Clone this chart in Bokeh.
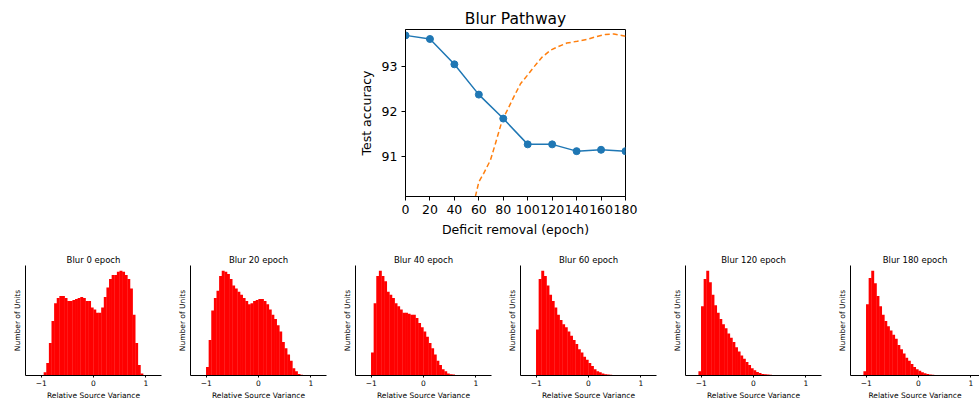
from bokeh.plotting import figure
from bokeh.layouts import column, row
from bokeh.models import Spacer, FixedTicker
from bokeh.embed import file_html
from bokeh.resources import INLINE

FONT = "DejaVu Sans"

# ---- top chart data ----
epochs = [0, 20, 40, 60, 80, 100, 120, 140, 160, 180]
blur_acc = [93.68, 93.60, 93.04, 92.37, 91.84, 91.27, 91.27, 91.12, 91.15, 91.12]

curve_epoch = [55, 57.3, 60, 64, 69.5, 73.6, 79.1, 83.2, 88.6, 94.1, 99.5, 105, 111.8,
               118.6, 124, 132, 140.5, 148.6, 155.5, 163.6, 170.5, 180]
curve_acc = [89.95, 90.13, 90.44, 90.63, 90.92, 91.29, 91.80, 92.02, 92.32, 92.61, 92.79,
             92.98, 93.20, 93.35, 93.42, 93.51, 93.55, 93.59, 93.65, 93.70, 93.71, 93.66]

y_ticks = [91, 92, 93]

# ---- histogram data (relative counts, bin left edges, width 0.05) ----
bin_left = [-1.10, -1.05, -1.00, -0.95, -0.90, -0.85, -0.80, -0.75, -0.70, -0.65,
            -0.60, -0.55, -0.50, -0.45, -0.40, -0.35, -0.30, -0.25, -0.20, -0.15,
            -0.10, -0.05, 0.00, 0.05, 0.10, 0.15, 0.20, 0.25, 0.30, 0.35,
            0.40, 0.45, 0.50, 0.55, 0.60, 0.65, 0.70, 0.75, 0.80, 0.85,
            0.90, 0.95]
bin_width = 0.05

hist_titles = ["Blur 0 epoch", "Blur 20 epoch", "Blur 40 epoch",
               "Blur 60 epoch", "Blur 120 epoch", "Blur 180 epoch"]

counts_0 = [0, 0, 0.005, 0.03, 0.12, 0.31, 0.52, 0.69, 0.74, 0.76,
            0.76, 0.74, 0.71, 0.71, 0.72, 0.73, 0.74, 0.75, 0.74, 0.71,
            0.71, 0.65, 0.63, 0.60, 0.60, 0.65, 0.75, 0.84, 0.92, 0.96,
            0.96, 0.99, 1.00, 0.99, 0.96, 0.92, 0.83, 0.58, 0.31, 0.10,
            0.02, 0.005]
counts_20 = [0, 0, 0.08, 0.34, 0.62, 0.74, 0.81, 0.95, 1.00, 0.99,
             0.97, 0.92, 0.86, 0.83, 0.80, 0.77, 0.74, 0.71, 0.68, 0.69,
             0.71, 0.72, 0.73, 0.73, 0.71, 0.68, 0.63, 0.58, 0.54, 0.48,
             0.42, 0.32, 0.26, 0.20, 0.14, 0.07, 0.04, 0.015, 0.006, 0.003,
             0.002, 0.002]
counts_40 = [0, 0, 0.22, 0.69, 0.95, 1.00, 0.95, 0.90, 0.80, 0.77,
             0.74, 0.69, 0.66, 0.63, 0.60, 0.60, 0.59, 0.58, 0.58, 0.55,
             0.50, 0.46, 0.42, 0.37, 0.31, 0.26, 0.20, 0.14, 0.10, 0.06,
             0.04, 0.02, 0.012, 0.01, 0.005, 0.003, 0.002, 0.002, 0, 0,
             0, 0]
counts_60 = [0, 0, 0.44, 0.92, 1.00, 0.95, 0.86, 0.77, 0.71, 0.65,
             0.58, 0.53, 0.49, 0.46, 0.42, 0.38, 0.34, 0.30, 0.25, 0.22,
             0.18, 0.15, 0.12, 0.09, 0.06, 0.04, 0.03, 0.02, 0.012, 0.01,
             0.006, 0.003, 0.002, 0.002, 0, 0, 0, 0, 0, 0,
             0, 0]
counts_120 = [0, 0.04, 0.66, 0.92, 1.00, 0.89, 0.77, 0.67, 0.60, 0.54,
              0.49, 0.45, 0.40, 0.36, 0.32, 0.27, 0.23, 0.19, 0.16, 0.13,
              0.10, 0.07, 0.05, 0.034, 0.025, 0.015, 0.012, 0.009, 0.006, 0.003,
              0.002, 0, 0, 0, 0, 0, 0, 0, 0, 0,
              0, 0]
counts_180 = [0, 0.04, 0.68, 0.93, 1.00, 0.88, 0.76, 0.66, 0.58, 0.52,
              0.47, 0.43, 0.39, 0.35, 0.29, 0.25, 0.21, 0.17, 0.14, 0.11,
              0.08, 0.06, 0.045, 0.032, 0.022, 0.014, 0.01, 0.008, 0.005, 0.003,
              0.002, 0, 0, 0, 0, 0, 0, 0, 0, 0,
              0, 0]
all_counts = [counts_0, counts_20, counts_40, counts_60, counts_120, counts_180]

# ---- top chart ----
p = figure(width=295, height=241, x_range=(0, 180), y_range=(90.117, 93.81),
           output_backend="svg", toolbar_location=None, title="Blur Pathway",
           min_border_left=50, min_border_right=25, min_border_top=29, min_border_bottom=45)
p.title.align = "center"
p.title.text_font = FONT
p.title.text_font_size = "15.5px"
p.title.text_font_style = "normal"
p.title.text_color = "black"
p.title.standoff = 3
p.outline_line_color = "black"
p.outline_line_width = 1
p.grid.visible = False
p.xaxis.ticker = FixedTicker(ticks=epochs)
p.yaxis.ticker = FixedTicker(ticks=y_ticks)
for ax in (p.xaxis[0], p.yaxis[0]):
    ax.major_label_text_font = FONT
    ax.major_label_text_font_size = "12.5px"
    ax.major_label_text_color = "black"
    ax.axis_label_text_font = FONT
    ax.axis_label_text_font_size = "12.5px"
    ax.axis_label_text_font_style = "normal"
    ax.axis_label_text_color = "black"
    ax.minor_tick_line_color = None
    ax.major_tick_in = 0
    ax.major_tick_out = 4
    ax.axis_line_color = "black"
    ax.major_label_standoff = 4
    ax.axis_label_standoff = 5
p.xaxis.axis_label = "Deficit removal (epoch)"
p.yaxis.axis_label = "Test accuracy"

p.line(curve_epoch, curve_acc, color="#ff7f0e", line_width=1.5, line_dash="5 3")
p.line(epochs, blur_acc, color="#1f77b4", line_width=1.5)
p.scatter(epochs, blur_acc, size=7, color="#1f77b4")

# ---- histograms ----
hists = [Spacer(width=8, height=161)]
for i, (title, counts) in enumerate(zip(hist_titles, all_counts)):
    last = i == len(hist_titles) - 1
    x_end = 1.167 if last else 1.3
    w = 146 if last else 165
    h = figure(width=w, height=161, x_range=(-1.3, x_end), y_range=(0, 1.05),
               output_backend="svg", toolbar_location=None, title=title,
               min_border_left=17, min_border_right=0 if last else 12,
               min_border_top=24, min_border_bottom=24)
    h.title.align = "center"
    h.title.text_font = FONT
    h.title.text_font_size = "8.5px"
    h.title.text_font_style = "normal"
    h.title.text_color = "black"
    h.title.standoff = 2
    h.outline_line_color = None
    h.grid.visible = False
    h.vbar(x=[b + bin_width / 2 for b in bin_left], top=counts, width=bin_width * 1.12,
           fill_color="#ff0000", line_color=None)
    h.xaxis.ticker = FixedTicker(ticks=[-1, 0, 1])
    h.xaxis.major_label_overrides = {-1: "\u22121"}
    h.yaxis.ticker = FixedTicker(ticks=[])
    for ax in (h.xaxis[0], h.yaxis[0]):
        ax.major_label_text_font = FONT
        ax.major_label_text_font_size = "7.5px"
        ax.major_label_text_color = "black"
        ax.axis_label_text_font = FONT
        ax.axis_label_text_font_size = "7.5px"
        ax.axis_label_text_font_style = "normal"
        ax.axis_label_text_color = "black"
        ax.minor_tick_line_color = None
        ax.major_tick_in = 0
        ax.major_tick_out = 2
        ax.axis_line_color = "black"
        ax.axis_line_width = 1
        ax.major_label_standoff = 2
        ax.axis_label_standoff = 2
    h.yaxis.axis_label_standoff = 4
    h.xaxis.axis_label = "Relative Source Variance"
    h.yaxis.axis_label = "Number of Units"
    hists.append(h)

layout = column(row(Spacer(width=355, height=241), p), row(*hists))

open("out.html", "w").write(file_html(layout, INLINE))
